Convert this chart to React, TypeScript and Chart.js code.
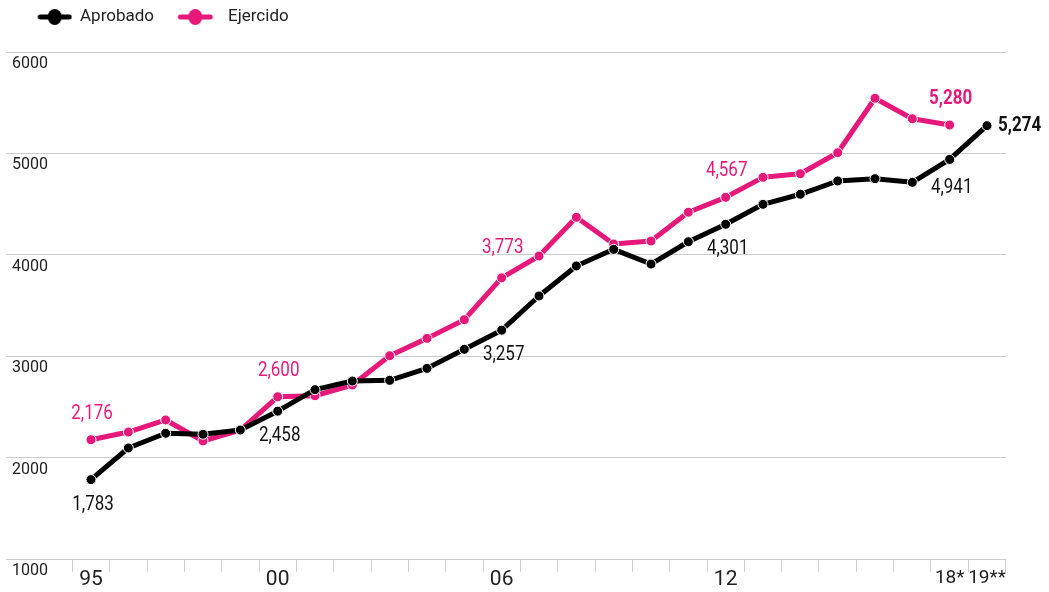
import React, { useEffect, useRef } from 'react';
import { Chart, registerables } from 'chart.js';

Chart.register(...registerables);

// ---------- data ----------
const years = [1995, 1996, 1997, 1998, 1999, 2000, 2001, 2002, 2003, 2004, 2005, 2006, 2007, 2008, 2009, 2010, 2011, 2012, 2013, 2014, 2015, 2016, 2017, 2018, 2019];
const aprobado = [1783, 2095, 2240, 2230, 2272, 2458, 2670, 2755, 2762, 2880, 3068, 3257, 3594, 3890, 4054, 3909, 4129, 4301, 4498, 4597, 4728, 4751, 4715, 4941, 5274];
const ejercido: (number | null)[] = [2176, 2252, 2371, 2164, 2272, 2600, 2610, 2716, 3005, 3176, 3360, 3773, 3988, 4370, 4107, 4136, 4420, 4567, 4764, 4800, 5007, 5544, 5342, 5280, null];
const seriesNames = ['Aprobado', 'Ejercido'];
const yTickValues = [1000, 2000, 3000, 4000, 5000, 6000];
const xLabelYears = [1995, 2000, 2006, 2012, 2018, 2019];
const xLabelTexts = ['95', '00', '06', '12', '18*', '19**'];
const aprobadoLabelYears = [1995, 2000, 2006, 2012, 2018, 2019];
const ejercidoLabelYears = [1995, 2000, 2006, 2012, 2018];

// ---------- styles ----------
const BLACK = '#000000';
const PINK = '#e6197b';
const FONT = "Roboto, 'Liberation Sans', sans-serif";
const CONDENSE = 0.85;
// extra vertical nudges for a few value labels (style only)
const aprobadoLabelNudge: Record<number, number> = { 2018: 4 };
const ejercidoLabelNudge: Record<number, number> = { 2006: -4 };

function legendImage(color: string, x0: number, x1: number) {
  const c = document.createElement('canvas');
  c.width = 63;
  c.height = 18;
  const g = c.getContext('2d')!;
  g.strokeStyle = color;
  g.lineWidth = 5;
  g.lineCap = 'round';
  g.beginPath();
  g.moveTo(x0 + 2.5, 9);
  g.lineTo(x1 - 2.5, 9);
  g.stroke();
  g.fillStyle = color;
  g.beginPath();
  g.ellipse((x0 + x1) / 2, 9, 7, 8, 0, 0, Math.PI * 2);
  g.fill();
  return c;
}

const fmt = (v: number) => v.toLocaleString('en-US');

function condensedText(ctx: CanvasRenderingContext2D, text: string, x: number, y: number) {
  ctx.save();
  ctx.translate(x, y);
  ctx.scale(CONDENSE, 1);
  ctx.fillText(text, 0, 0);
  ctx.restore();
}

const valueLabels = {
  id: 'valueLabels',
  afterDatasetsDraw(chart: any) {
    const { ctx } = chart;
    const xs = chart.scales.x;
    const ys = chart.scales.y;
    ctx.save();
    ctx.textBaseline = 'middle';
    ejercidoLabelYears.forEach((yr) => {
      const i = years.indexOf(yr);
      const v = ejercido[i] as number;
      const px = xs.getPixelForValue(yr);
      const py = ys.getPixelForValue(v);
      const bold = yr === 2018;
      ctx.font = `${bold ? 'bold ' : ''}20px ${FONT}`;
      ctx.fillStyle = PINK;
      ctx.textAlign = 'center';
      condensedText(ctx, fmt(v), px + 1, py - 26 + (ejercidoLabelNudge[yr] || 0));
    });
    aprobadoLabelYears.forEach((yr) => {
      const i = years.indexOf(yr);
      const v = aprobado[i];
      const px = xs.getPixelForValue(yr);
      const py = ys.getPixelForValue(v);
      ctx.fillStyle = '#111111';
      if (yr === 2019) {
        ctx.font = `bold 20px ${FONT}`;
        ctx.textAlign = 'left';
        condensedText(ctx, fmt(v), px + 11, py);
      } else {
        ctx.font = `20px ${FONT}`;
        ctx.textAlign = 'center';
        condensedText(ctx, fmt(v), px + 2, py + 25 + (aprobadoLabelNudge[yr] || 0));
      }
    });
    ctx.restore();
  },
};

export default function App() {
  const ref = useRef<HTMLCanvasElement>(null);

  useEffect(() => {
    if (!ref.current) return;
    const imgs = [legendImage(BLACK, 28.5, 62.5), legendImage(PINK, 20.5, 55.5)];
    const chart = new Chart(ref.current, {
      type: 'line',
      data: {
        datasets: [
          {
            label: seriesNames[0],
            data: years.map((x, i) => ({ x, y: aprobado[i] })),
            borderColor: BLACK,
            backgroundColor: BLACK,
            borderWidth: 5,
            pointRadius: 5,
            pointBorderWidth: 1,
            pointBorderColor: '#ffffff',
            pointBackgroundColor: BLACK,
            tension: 0,
            borderJoinStyle: 'round',
          },
          {
            label: seriesNames[1],
            data: years
              .map((x, i) => ({ x, y: ejercido[i] }))
              .filter((d) => d.y !== null) as any,
            borderColor: PINK,
            backgroundColor: PINK,
            borderWidth: 5,
            pointRadius: 5,
            pointBorderWidth: 1,
            pointBorderColor: '#ffffff',
            pointBackgroundColor: PINK,
            tension: 0,
            borderJoinStyle: 'round',
          },
        ],
      },
      options: {
        responsive: false,
        animation: false,
        layout: { padding: { left: -6, right: 43, top: 4.5, bottom: 5 } },
        plugins: {
          tooltip: { enabled: false },
          legend: {
            display: true,
            position: 'top',
            align: 'start',
            fullSize: false,
            labels: {
              usePointStyle: true,
              pointStyleWidth: 61.5,
              padding: 4,
              color: '#222222',
              font: { family: FONT, size: 17 },
              generateLabels: () =>
                seriesNames.map((name, i) => ({
                  text: name,
                  fillStyle: i === 0 ? BLACK : PINK,
                  strokeStyle: i === 0 ? BLACK : PINK,
                  lineWidth: 0,
                  hidden: false,
                  datasetIndex: i,
                  pointStyle: imgs[i] as any,
                  fontColor: '#222222',
                })),
            },
          },
        },
        scales: {
          x: {
            type: 'linear',
            min: 1992.723,
            max: 2019.509,
            afterBuildTicks: (scale: any) => {
              const t = [];
              for (let v = 1994.5; v <= 2019.5; v += 0.5) t.push({ value: v });
              scale.ticks = t;
            },
            grid: {
              drawOnChartArea: false,
              drawTicks: true,
              tickLength: 13,
              color: (c: any) =>
                c.tick && Number.isInteger(c.tick.value) ? 'rgba(0,0,0,0)' : '#d0d0d0',
              lineWidth: 1,
            },
            border: { display: false },
            ticks: {
              autoSkip: false,
              maxRotation: 0,
              minRotation: 0,
              padding: -3,
              color: '#222222',
              font: (c: any) => ({
                family: FONT,
                size: c.tick && c.tick.value >= 2018 ? 19 : 21,
                lineHeight: 1,
              }),
              callback: (value: any) => {
                const idx = xLabelYears.indexOf(Number(value));
                return idx >= 0 ? xLabelTexts[idx] : '';
              },
            },
          },
          y: {
            type: 'linear',
            min: 1000,
            max: 6163,
            afterBuildTicks: (scale: any) => {
              scale.ticks = yTickValues.map((v) => ({ value: v }));
            },
            grid: {
              drawTicks: false,
              color: '#cccccc',
              lineWidth: 1,
            },
            border: { display: false },
            ticks: {
              mirror: true,
              padding: 6,
              labelOffset: 12,
              color: '#222222',
              font: { family: FONT, size: 16 },
              callback: (value: any) => String(value),
            },
          },
        },
      },
      plugins: [valueLabels],
    } as any);
    return () => chart.destroy();
  }, []);

  return (
    <canvas
      ref={ref}
      width={1049}
      height={592}
      style={{ position: 'fixed', left: 0, top: 0, display: 'block', background: '#ffffff' }}
    />
  );
}
